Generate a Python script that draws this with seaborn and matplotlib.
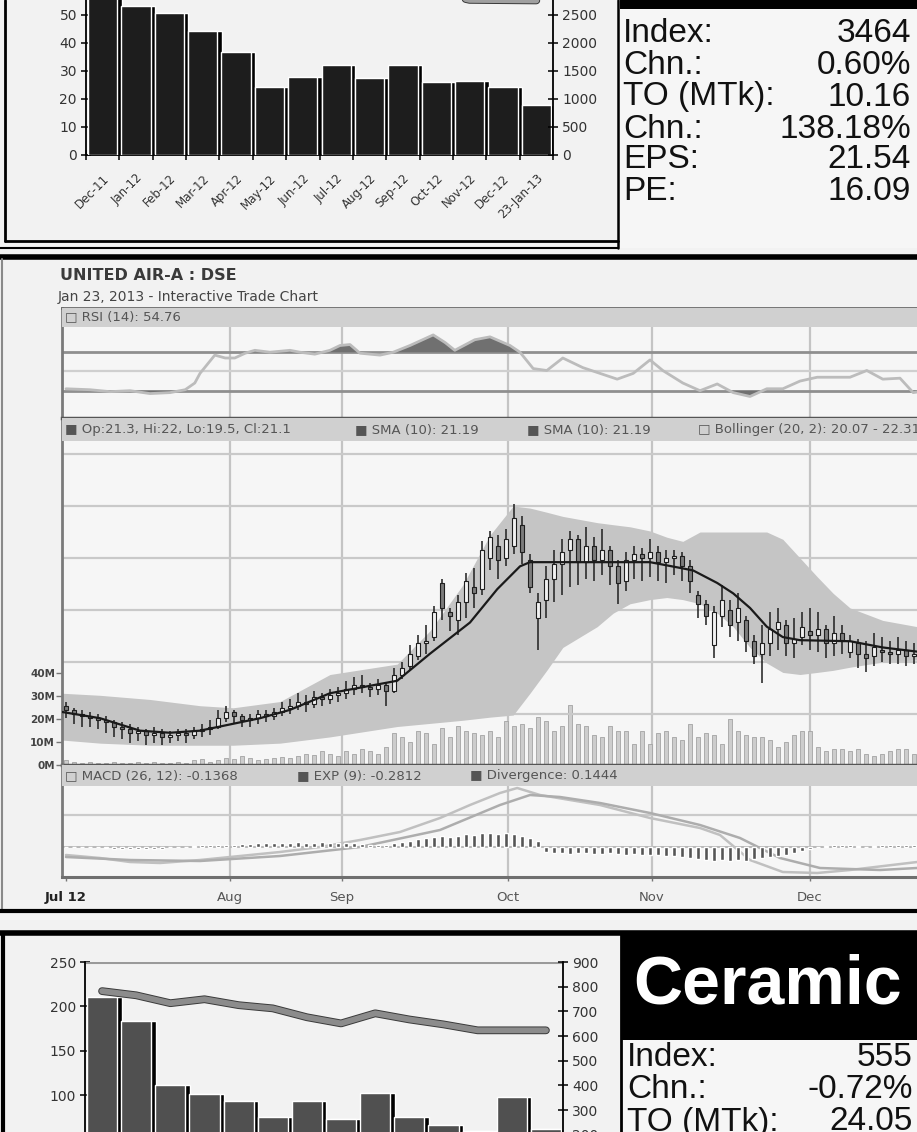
#!/usr/bin/env python3
"""
Newspaper market page: sector bar charts, info boxes and an interactive trade chart.
"""

import numpy as np
import matplotlib
matplotlib.use('Agg')
import matplotlib.pyplot as plt
import matplotlib.patheffects as pe
from matplotlib.lines import Line2D
from matplotlib.patches import Rectangle
import seaborn as sns

W, H = 917, 1132

# ---------------- data: top sector chart ----------------
months = ['Dec-11', 'Jan-12', 'Feb-12', 'Mar-12', 'Apr-12', 'May-12', 'Jun-12',
          'Jul-12', 'Aug-12', 'Sep-12', 'Oct-12', 'Nov-12', 'Dec-12', '23-Jan-13']
top_bars = [58, 53.2, 50.6, 44.4, 36.9, 24.4, 28, 32.1, 27.4, 32.1, 26.2, 26.4, 24.4, 17.9]
top_line = [3300, 3250, 3200, 3150, 3100, 3000, 3050, 3000, 2950, 3000, 2900, 2770, 2765, 2760]
top_left_ticks = [0, 10, 20, 30, 40, 50]
top_right_ticks = [0, 500, 1000, 1500, 2000, 2500]

top_info_labels = ['Index:', 'Chn.:', 'TO (MTk):', 'Chn.:', 'EPS:', 'PE:']
top_info_values = ['3464', '0.60%', '10.16', '138.18%', '21.54', '16.09']

# ---------------- data: bottom sector chart (Ceramic) ----------------
bot_bars = [211, 183, 112, 101, 94, 76, 93, 73, 103, 75, 67, 60, 98, 62]
bot_line = [782, 765, 733, 749, 725, 712, 676, 651, 692, 667, 647, 623, 623, 623]
bot_left_ticks = [100, 150, 200, 250]
bot_right_ticks = [200, 300, 400, 500, 600, 700, 800, 900]

bot_title = 'Ceramic'
bot_info_labels = ['Index:', 'Chn.:', 'TO (MTk):']
bot_info_values = ['555', '-0.72%', '24.05']

# ---------------- data: UNITED AIR-A trade chart (trading-day index) ----------------
opens = [
    17.9, 17.7, 17.5, 17.4, 17.3, 17.2, 17.1, 16.9, 16.8, 16.6, 16.7, 16.5, 16.6, 16.4, 16.5, 16.6, 16.5, 16.7, 16.8, 16.9, 17.3,
    17.6, 17.4, 17.2, 17.3, 17.5, 17.4, 17.6, 17.8, 17.9, 18.1, 18.0, 18.3, 18.2, 18.4,
    18.5, 18.7, 18.9, 18.8, 18.7, 18.9, 18.6, 19.4, 19.8, 20.3, 20.9, 21.2, 23.8, 22.4, 22.0, 22.9, 23.6, 23.5, 25.0, 25.6, 25.0,
    25.6, 26.6, 24.9, 22.1, 23.0, 24.0, 24.7, 25.4, 25.9, 24.8, 25.6, 24.9, 25.4, 24.6, 23.9, 24.9, 25.2, 25.0,
    25.3, 24.8, 25.0, 25.1, 24.6, 23.2, 22.8, 20.8, 22.2, 22.5, 21.9, 22.0, 21.0, 20.4, 20.9, 21.6, 21.8, 20.9, 21.2,
    21.5, 21.3, 21.6, 20.9, 21.4, 20.5, 20.9, 20.4, 20.3, 20.6, 20.5, 20.4, 20.6, 20.3]
closes = [
    17.7, 17.5, 17.4, 17.3, 17.2, 17.1, 16.9, 16.8, 16.6, 16.7, 16.5, 16.6, 16.4, 16.5, 16.6, 16.5, 16.7, 16.8, 16.9, 17.3, 17.6,
    17.4, 17.2, 17.3, 17.5, 17.4, 17.6, 17.8, 17.9, 18.1, 18.0, 18.3, 18.2, 18.4, 18.5,
    18.7, 18.9, 18.8, 18.7, 18.9, 18.6, 19.4, 19.7, 20.4, 20.9, 21.0, 22.4, 22.6, 22.2, 22.9, 23.9, 23.3, 25.4, 26.0, 24.9, 25.9,
    26.9, 25.3, 23.6, 22.9, 24.0, 24.7, 25.3, 25.9, 24.8, 25.6, 24.9, 25.4, 24.6, 23.8, 24.9, 25.2, 25.0, 25.3,
    24.8, 25.0, 25.1, 24.6, 23.9, 22.8, 22.2, 22.4, 23.0, 21.8, 22.6, 21.0, 20.3, 20.9, 21.6, 21.9, 20.9, 21.1, 21.7,
    21.3, 21.6, 20.9, 21.4, 21.0, 21.0, 20.4, 20.2, 20.7, 20.5, 20.4, 20.6, 20.3, 20.4]
highs = [
    18.1, 17.8, 17.7, 17.6, 17.5, 17.4, 17.2, 17.1, 17.0, 16.9, 16.8, 16.9, 16.8, 16.7, 16.8, 16.8, 16.9, 17.0, 17.2, 17.7, 17.9,
    17.7, 17.5, 17.5, 17.7, 17.7, 17.8, 18.1, 18.2, 18.5, 18.4, 18.6, 18.5, 18.7, 18.8,
    19.1, 19.3, 19.4, 19.0, 19.2, 19.0, 19.7, 20.0, 20.8, 21.3, 21.8, 22.7, 24.0, 22.6, 23.2, 24.3, 24.5, 25.8, 26.3, 26.1, 26.4,
    27.6, 27.0, 25.2, 23.3, 24.6, 25.4, 25.9, 26.3, 26.1, 26.5, 26.0, 26.4, 25.6, 24.9, 25.3, 25.6, 25.5, 25.9,
    25.6, 25.4, 25.4, 25.3, 24.9, 23.4, 23.0, 22.7, 23.7, 23.0, 23.3, 22.2, 21.3, 21.8, 22.4, 22.6, 22.0, 22.1, 22.4,
    22.6, 22.4, 21.8, 22.2, 21.8, 21.3, 21.1, 21.0, 21.4, 21.2, 21.0, 21.2, 21.0, 20.9]
lows = [
    17.3, 17.0, 16.9, 16.9, 16.8, 16.6, 16.4, 16.3, 16.1, 16.2, 16.0, 16.1, 16.0, 16.1, 16.2, 16.1, 16.3, 16.4, 16.5, 16.8, 17.1,
    17.0, 16.9, 16.9, 17.0, 17.1, 17.2, 17.4, 17.5, 17.7, 17.6, 17.8, 17.9, 18.0, 18.1,
    18.2, 18.4, 18.5, 18.3, 18.4, 17.9, 18.5, 19.2, 19.6, 20.1, 20.4, 21.0, 22.0, 21.5, 21.3, 22.1, 22.6, 23.2, 24.4, 24.0, 24.6,
    25.2, 24.7, 23.3, 20.6, 22.1, 22.9, 23.2, 23.6, 23.7, 24.0, 23.9, 24.2, 23.7, 22.8, 23.4, 24.0, 23.9, 24.1,
    23.9, 23.8, 24.2, 23.9, 23.3, 22.1, 21.8, 20.2, 21.7, 21.2, 21.0, 20.5, 19.9, 19.0, 20.3, 20.6, 20.3, 20.2, 20.8,
    20.6, 20.5, 20.2, 20.3, 20.4, 20.2, 19.7, 19.5, 19.8, 20.0, 19.9, 19.9, 19.8, 19.9]

# volume (millions), one value per trading day
vol_jul = [2, 1.5, 1, 1.2, 0.8, 1, 1.5, 1, 0.8, 1.2, 1, 1.5, 1, 0.8, 1.2, 1, 2, 2.5, 1.5, 2, 3]
vol_aug = [2.5, 4, 3, 2, 2.5, 3, 3.5, 3, 4, 5, 4.5, 6, 5, 4]
vol_sep = [6, 5, 7, 6, 5, 8, 14, 12, 10, 15, 14, 9, 16, 12, 17, 15, 14, 13, 15, 12, 19]
vol_oct = [17, 18, 16, 21, 19, 15, 17, 26, 18, 17, 13, 12, 17, 15, 15, 9, 15, 9]
vol_nov = [14, 15, 12, 11, 18, 12, 14, 13, 9, 20, 15, 13, 12, 12, 11, 8, 10, 13, 15]
vol_dec = [15, 8, 6, 7, 7, 6, 7, 5, 4, 5, 6, 7, 7, 5]
vol_ticks = [0, 10, 20, 30, 40]
vol_tick_labels = ['0M', '10M', '20M', '30M', '40M']

sma_x = [-0.5, 4.25, 9.25, 13, 16.75, 20.5, 24.25, 28, 33, 41.4, 45.5, 50.5, 53.9, 56.75,
         58, 64.25, 73, 77.1, 78.4, 81.4, 83.4, 85.5, 87.6, 89.6, 91.75, 98, 102.1, 106.4]
sma_vals = [17.6, 17.3, 16.7, 16.6, 16.7, 17.0, 17.3, 17.7, 18.5, 19.1, 20.4, 21.9, 23.5, 24.6,
            24.8, 24.8, 24.8, 24.5, 24.4, 23.8, 23.3, 22.6, 21.7, 21.2, 21.05, 21.0, 20.7, 20.5]
band_x = [-0.5, 4.25, 10.5, 16.75, 20.9, 26.75, 33, 41.4, 45.5, 49.6, 53, 55.9, 58, 60.1, 62.1, 64.25, 66.4,
          68.4, 70.5, 73, 75.1, 77.1, 79.25, 81.4, 83.4, 85.5, 87.6, 89.6, 91.75, 93.9, 95.9, 98, 102.1, 106.4]
band_upper = [18.5, 18.4, 18.2, 17.9, 17.8, 18.1, 19.4, 19.9, 21.5, 23.7, 26.1, 27.5, 27.4, 27.2, 27.0, 26.85, 26.7,
              26.6, 26.5, 26.3, 26.0, 25.8, 26.25, 26.25, 26.25, 26.25, 26.25, 25.9, 25.0, 24.1, 23.3, 22.6, 22.0, 21.7]
band_lower = [16.25, 16.1, 16.0, 16.0, 16.0, 16.1, 16.4, 16.9, 17.05, 17.2, 17.35, 17.45, 18.5, 19.6, 20.7, 21.2, 21.7,
              22.35, 22.8, 23.0, 23.1, 23.0, 22.8, 22.35, 21.7, 20.7, 19.95, 19.5, 19.4, 19.5, 19.6, 19.75, 20.0, 20.1]
price_grid = [17.5, 20, 22.5, 25, 27.5, 30]

# RSI (14)
rsi_x = [0, 3, 5.5, 8, 10.5, 13, 14.9, 16.1, 16.75, 18.6, 19.9, 21.1, 22.4, 23.6, 25.5, 26.75, 28, 29.25, 31.1, 33,
         34.25, 35.5, 36.75, 39.25, 40.9, 43, 45.9, 47.4, 48.6, 51.1, 53, 55.5, 56.75, 58.4, 60.1, 62.1, 64.6, 68.9,
         70.9, 73, 74.6, 77.1, 79.25, 81.4, 83.4, 85.5, 87.6, 89.6, 91.75, 93.9, 98, 100.1, 102.1, 104.25, 105.9, 107.5]
rsi_vals = [32, 31, 29, 30, 27, 28, 31, 38, 48, 67, 64, 64, 69, 72, 70, 71, 72, 70, 68, 72,
            77, 78, 69, 67, 70, 77, 88, 80, 72, 83, 86, 77, 70, 53, 51, 64, 54, 42,
            48, 62, 51, 38, 30, 37, 28, 24, 32, 32, 40, 44, 44, 51, 42, 43, 28, 30]

# MACD (26, 12), EXP (9), divergence
macd_x = [0, 4.25, 8, 11.75, 16.75, 21.75, 26.75, 31.75, 36.75, 41.75, 46.75, 50.5, 54.25, 56.4,
          59.25, 63, 66.75, 73, 79.25, 81.75, 85.5, 89.6, 93.9, 98, 106.4]
macd_vals = [-0.4, -0.55, -0.75, -0.8, -0.65, -0.45, -0.25, 0.0, 0.35, 0.75, 1.45, 2.1, 2.7, 2.95,
             2.6, 2.35, 2.1, 1.45, 0.95, 0.6, -0.65, -1.25, -1.3, -1.15, -0.75]
signal_x = [0, 8, 16.75, 26.75, 36.75, 46.75, 54.25, 58, 61.75, 66.75, 73, 79.25, 84.25, 89.25, 94.25, 101.75, 106.4]
signal_vals = [-0.5, -0.65, -0.7, -0.45, 0.0, 0.85, 2.1, 2.6, 2.5, 2.2, 1.7, 1.1, 0.45, -0.55, -1.05, -1.15, -1.05]
div_jul = [0, 0, 0, 0, 0, -0.05, -0.08, -0.1, -0.1, -0.1, -0.08, -0.08, -0.1, 0, 0, 0, 0.05, 0.08, 0.1, 0.1, 0.12]
div_aug = [0.12, 0.15, 0.15, 0.18, 0.2, 0.2, 0.22, 0.2, 0.25, 0.22, 0.2, 0.25, 0.22, 0.2]
div_sep = [0.2, 0.18, 0.15, 0.12, 0.1, 0.12, 0.2, 0.25, 0.3, 0.4, 0.45, 0.5, 0.55, 0.5, 0.55, 0.65, 0.6, 0.7, 0.7, 0.65, 0.7]
div_oct = [0.65, 0.55, 0.45, 0.3, -0.25, -0.3, -0.3, -0.35, -0.3, -0.3, -0.35, -0.35, -0.3, -0.35, -0.4, -0.35, -0.4, -0.4]
div_nov = [-0.4, -0.45, -0.45, -0.5, -0.55, -0.6, -0.65, -0.7, -0.65, -0.7, -0.65, -0.7, -0.6, -0.55, -0.5, -0.45, -0.4, -0.3, -0.2]
div_dec = [-0.1, 0, 0.05, 0.08, 0.1, 0.1, 0.05, 0, 0.05, 0.08, 0.1, 0.1, 0.08, 0.1]

month_ticks = [0, 20.5, 34.5, 55.25, 73.25, 93]
month_labels = ['Jul 12', 'Aug', 'Sep', 'Oct', 'Nov', 'Dec']

# ---------------- style ----------------
sns.set_theme(style='white')
plt.rcParams['font.family'] = ['DejaVu Sans']
INFO_FONT = ['Liberation Sans', 'DejaVu Sans']

fig = plt.figure(figsize=(W / 100, H / 100), dpi=100)
fig.patch.set_facecolor('#f2f2f2')


def px_box(left, top, right, bottom):
    return [left / W, 1 - bottom / H, (right - left) / W, (bottom - top) / H]


def hline(y, x0, x1, color='black', lw=2.0):
    fig.add_artist(Line2D([x0 / W, x1 / W], [1 - y / H, 1 - y / H], color=color, lw=lw))


def vline(x, y0, y1, color='black', lw=2.0):
    fig.add_artist(Line2D([x / W, x / W], [1 - y0 / H, 1 - y1 / H], color=color, lw=lw))


def fill_px(x0, y0, x1, y1, color):
    fig.add_artist(Rectangle((x0 / W, 1 - y1 / H), (x1 - x0) / W, (y1 - y0) / H,
                             facecolor=color, edgecolor='none'))


def ftext(x, y, s, **kw):
    fig.text(x / W, 1 - y / H, s, **kw)


def sector_chart(box, bars, line, ylim_l, ylim_r, lticks, rticks, bar_color, line_color, show_xlabels):
    ax = fig.add_axes(box)
    ax.set_facecolor('none')
    sns.barplot(x=months, y=bars, color=bar_color, saturation=1, width=0.88, ax=ax)
    for p in ax.patches:
        p.set_zorder(3)
    # 3D-ish shadow on the right side of each bar
    ax.bar(np.arange(len(bars)) + 0.13, bars, width=0.88, color='black', zorder=2)
    ax.set_xlim(-0.5, len(bars) - 0.5)
    ax.set_ylim(*ylim_l)
    ax.set_yticks(lticks)
    ax.set_yticklabels([str(t) for t in lticks], fontsize=10, color='#333')
    ax.tick_params(axis='y', direction='inout', length=7, width=1.1, color='black', pad=3, left=True)
    ax.set_xticks(np.arange(len(bars)))
    if show_xlabels:
        ax.set_xticklabels(months, rotation=45, ha='right', rotation_mode='anchor', fontsize=8.5, color='#333')
    else:
        ax.set_xticklabels([])
    ax.set_xticks(np.arange(-0.5, len(bars), 1), minor=True)
    ax.tick_params(axis='x', which='minor', direction='inout', length=7, width=1.1, color='black', bottom=True)
    ax.tick_params(axis='x', which='major', length=0, pad=12)
    ax.set_xlabel('')
    ax.set_ylabel('')
    for s in ['top', 'right']:
        ax.spines[s].set_visible(False)
    for s in ['left', 'bottom']:
        ax.spines[s].set_color('black')
        ax.spines[s].set_linewidth(1.3)

    axr = ax.twinx()
    sns.lineplot(x=np.arange(len(line)), y=line, ax=axr, color=line_color, linewidth=4.2,
                 path_effects=[pe.Stroke(linewidth=5.6, foreground='#3a3a3a'), pe.Normal()])
    axr.set_ylim(*ylim_r)
    axr.set_yticks(rticks)
    axr.set_yticklabels([str(t) for t in rticks], fontsize=10, color='#333')
    axr.tick_params(axis='y', direction='inout', length=7, width=1.1, color='black', pad=3, right=True)
    axr.set_ylabel('')
    for s in ['top', 'left', 'bottom']:
        axr.spines[s].set_visible(False)
    axr.spines['right'].set_color('black')
    axr.spines['right'].set_linewidth(1.3)
    ax.set_xlim(-0.5, len(bars) - 0.5)
    return ax, axr


# ---------------- top section ----------------
ax_t, ax_tr = sector_chart(px_box(86, -13, 553, 155), top_bars, top_line, (0, 60), (0, 3000),
                           top_left_ticks, top_right_ticks, '#1d1d1d', '#a0a0a0', True)

fill_px(620, 0, 917, 248, '#f6f6f6')
fill_px(620, 0, 917, 9, 'black')
hline(241, 5, 618, lw=2)
hline(248, 0, 618, lw=1.5)
vline(5, 0, 241, lw=2)
vline(618, 0, 248, lw=1.8)
hline(257, 0, 917, lw=4)

row_y = [34, 66, 97, 129, 160, 191]
for lab, val, y in zip(top_info_labels, top_info_values, row_y):
    ftext(623, y, lab, fontsize=24, family=INFO_FONT, va='center', ha='left', color='#111')
    ftext(911, y, val, fontsize=24, family=INFO_FONT, va='center', ha='right', color='#111')

# ---------------- middle section: trade chart ----------------
vline(2, 259, 911, color='#8a8a8a', lw=1.5)
ftext(60, 276, 'UNITED AIR-A : DSE', fontsize=11.5, fontweight='bold', color='#3a3a3a', va='center')
ftext(58, 297, 'Jan 23, 2013 - Interactive Trade Chart', fontsize=10, color='#444', va='center')

XL = (-0.5, 108.25)
ax_rsi = fig.add_axes(px_box(62, 308, 932, 418))
ax_vol = fig.add_axes(px_box(62, 418, 932, 765))
ax_main = fig.add_axes(px_box(62, 418, 932, 765))
ax_macd = fig.add_axes(px_box(62, 765, 932, 877))

for ax in (ax_rsi, ax_vol, ax_main, ax_macd):
    ax.set_xlim(*XL)
    ax.tick_params(left=False, bottom=False, labelleft=False, labelbottom=False)
    for s in ax.spines.values():
        s.set_visible(False)
ax_rsi.set_facecolor('#f6f6f6')
ax_vol.set_facecolor('#f6f6f6')
ax_main.set_facecolor('none')
ax_macd.set_facecolor('#f6f6f6')

for ax in (ax_rsi, ax_vol, ax_macd):
    for m in month_ticks[1:]:
        ax.axvline(m, color='#c4c4c4', lw=1.6, zorder=0)

# RSI panel
ax_rsi.set_ylim(1.6, 116)
for lvl, col, lw in [(70, '#8f8f8f', 2.0), (50, '#cfcfcf', 1.6), (30, '#8f8f8f', 2.0)]:
    ax_rsi.axhline(lvl, color=col, lw=lw, zorder=1)
r = np.array(rsi_vals, dtype=float)
ax_rsi.fill_between(rsi_x, r, 70, where=r > 70, interpolate=True, color='#707070', lw=0, zorder=2)
ax_rsi.fill_between(rsi_x, r, 30, where=r < 30, interpolate=True, color='#707070', lw=0, zorder=2)
sns.lineplot(x=rsi_x, y=rsi_vals, ax=ax_rsi, color='#bcbcbc', linewidth=2, zorder=3)
ax_rsi.add_patch(Rectangle((0, 0.827), 1, 0.173, transform=ax_rsi.transAxes,
                           facecolor='#d0d0d0', edgecolor='none', zorder=6))
ax_rsi.spines['top'].set_visible(True)
ax_rsi.spines['top'].set_color('#6a6a6a')
ax_rsi.spines['top'].set_linewidth(2)
ax_rsi.spines['left'].set_visible(True)
ax_rsi.spines['left'].set_color('#7a7a7a')
ax_rsi.spines['left'].set_linewidth(2)
ax_rsi.set_xlabel('')
ax_rsi.set_ylabel('')

# volume
volume = vol_jul + vol_aug + vol_sep + vol_oct + vol_nov + vol_dec
idx = np.arange(len(volume))
ax_vol.set_ylim(0, 150.9)
ax_vol.bar(idx, volume, width=0.55, color='#cdcdcd', edgecolor='#a3a3a3', linewidth=0.6, zorder=2)
ax_vol.set_yticks(vol_ticks)
ax_vol.set_yticklabels(vol_tick_labels, fontsize=7.5, fontweight='bold', color='#444')
ax_vol.tick_params(axis='y', left=True, labelleft=True, length=4, width=1, color='#777', pad=1)

# price panel
ax_main.set_ylim(15.05, 31.73)
for g in price_grid:
    ax_main.axhline(g, color='#c9c9c9', lw=1.6, zorder=0)
ax_main.fill_between(band_x, band_lower, band_upper, color='#c5c5c5', lw=0, zorder=2)
o = np.array(opens)
c = np.array(closes)
up = c >= o
ax_main.vlines(np.arange(len(c)), lows, highs, color='#1e1e1e', lw=1.1, zorder=4)
ax_main.bar(np.arange(len(c)), np.maximum(np.abs(c - o), 0.07), bottom=np.minimum(o, c), width=0.62,
            color=np.where(up, '#f2f2f2', '#7c7c7c'), edgecolor='#1e1e1e', linewidth=0.8, zorder=5)
sns.lineplot(x=sma_x, y=sma_vals, ax=ax_main, color='#1a1a1a', linewidth=1.6, zorder=6)
ax_main.add_patch(Rectangle((0, 0.934), 1, 0.066, transform=ax_main.transAxes,
                            facecolor='#d0d0d0', edgecolor='none', zorder=8))
for s, col, lw in [('top', '#555', 2.5), ('bottom', '#555', 2.5), ('left', '#7a7a7a', 2)]:
    ax_main.spines[s].set_visible(True)
    ax_main.spines[s].set_color(col)
    ax_main.spines[s].set_linewidth(lw)
ax_main.set_xlabel('')
ax_main.set_ylabel('')

# MACD panel
divergence = div_jul + div_aug + div_sep + div_oct + div_nov + div_dec
ax_macd.set_ylim(-1.5, 4.1)
ax_macd.axhline(1.6, color='#cacaca', lw=1.6, zorder=0)
ax_macd.axhline(0, color='#b8b8b8', lw=1.4, zorder=0)
ax_macd.bar(np.arange(len(divergence)), divergence, width=0.6, color='#555', zorder=3)
sns.lineplot(x=macd_x, y=macd_vals, ax=ax_macd, color='#c0c0c0', linewidth=1.8, zorder=2)
sns.lineplot(x=signal_x, y=signal_vals, ax=ax_macd, color='#adadad', linewidth=1.8, zorder=2)
ax_macd.add_patch(Rectangle((0, 0.8125), 1, 0.1875, transform=ax_macd.transAxes,
                            facecolor='#d0d0d0', edgecolor='none', zorder=6))
for s, col, lw in [('bottom', '#6f6f6f', 2.2), ('left', '#7a7a7a', 2)]:
    ax_macd.spines[s].set_visible(True)
    ax_macd.spines[s].set_color(col)
    ax_macd.spines[s].set_linewidth(lw)
ax_macd.tick_params(axis='x', bottom=True, labelbottom=True, length=3, width=1, color='#777', pad=7)
ax_macd.set_xticks(month_ticks)
tick_texts = ax_macd.set_xticklabels(month_labels, fontsize=9.5, color='#555')
tick_texts[0].set_fontweight('bold')
tick_texts[0].set_color('#222')
ax_macd.set_xlim(*XL)
ax_macd.set_xlabel('')
ax_macd.set_ylabel('')

# panel headers
hdr = dict(fontsize=9.5, color='#555', va='center', ha='left')
ftext(65, 317, '\u25a1 RSI (14): 54.76', **hdr)
ftext(65, 430, '\u25a0 Op:21.3, Hi:22, Lo:19.5, Cl:21.1', **hdr)
ftext(355, 430, '\u25a0 SMA (10): 21.19', **hdr)
ftext(527, 430, '\u25a0 SMA (10): 21.19', **hdr)
ftext(698, 430, '\u25a1 Bollinger (20, 2): 20.07 - 22.31', **hdr)
ftext(65, 776, '\u25a1 MACD (26, 12): -0.1368', **hdr)
ftext(297, 776, '\u25a0 EXP (9): -0.2812', **hdr)
ftext(470, 776, '\u25a0 Divergence: 0.1444', **hdr)

hline(911, 0, 917, lw=3)

# ---------------- bottom section ----------------
hline(933, 0, 917, lw=4)
vline(3, 933, 1132, lw=3)
vline(621, 933, 1132, lw=2)
fill_px(622, 935, 917, 1132, '#f6f6f6')
fill_px(622, 935, 917, 1040, 'black')

ax_b, ax_br = sector_chart(px_box(85, 962, 563, 1184), bot_bars, bot_line, (0, 250), (0, 900),
                           bot_left_ticks, bot_right_ticks, '#505050', '#8c8c8c', False)
ax_b.axhline(250, color='#9a9a9a', lw=2.2, zorder=1)

ftext(633, 985, bot_title, fontsize=49, fontweight='bold', family=INFO_FONT,
      color='white', va='center', ha='left')
for lab, val, y in zip(bot_info_labels, bot_info_values, [1058, 1090, 1122]):
    ftext(627, y, lab, fontsize=24, family=INFO_FONT, va='center', ha='left', color='#111')
    ftext(913, y, val, fontsize=24, family=INFO_FONT, va='center', ha='right', color='#111')

fig.savefig('out.png', dpi=100, facecolor=fig.get_facecolor())
